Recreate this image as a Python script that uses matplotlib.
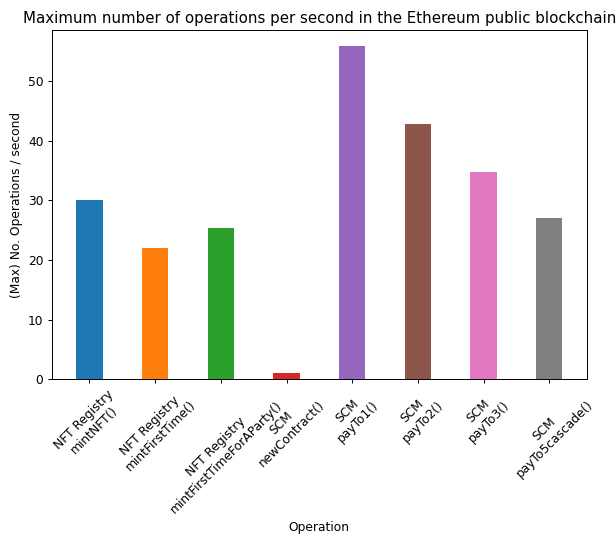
import matplotlib
matplotlib.use("Agg")
import matplotlib.pyplot as plt

categories = [
    "NFT Registry\nmintNFT()",
    "NFT Registry\nmintFirstTime()",
    "NFT Registry\nmintFirstTimeForAParty()",
    "SCM\nnewContract()",
    "SCM\npayTo1()",
    "SCM\npayTo2()",
    "SCM\npayTo3()",
    "SCM\npayTo5cascade()",
]
values = [30.0, 22.0, 25.4, 1.0, 55.9, 42.8, 34.7, 27.1]
colors = ["tab:blue", "tab:orange", "tab:green", "tab:red",
          "tab:purple", "tab:brown", "tab:pink", "tab:gray"]

DPI = 88
fig = plt.figure(figsize=(616 / DPI, 536 / DPI), dpi=DPI)
ax = fig.add_axes([52 / 616, 1 - 379.3 / 536, (586.7 - 52) / 616, (379.3 - 30) / 536])
x = list(range(len(categories)))
ax.bar(x, values, width=0.4, color=colors)
ax.set_xticks(x)
ax.set_xticklabels(categories, rotation=45)
ax.set_ylim(0, 58.6)
ax.set_title("Maximum number of operations per second in the Ethereum public blockchain",
             fontsize=12.25)
ax.set_ylabel("(Max) No. Operations / second")
ax.set_xlabel("Operation")
fig.savefig("out.png", dpi=DPI)
